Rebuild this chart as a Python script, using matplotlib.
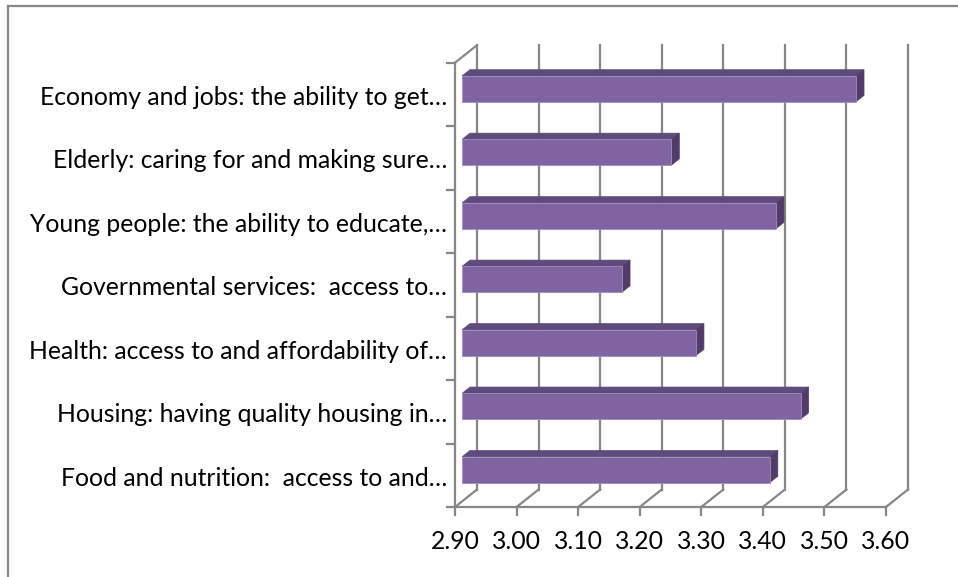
import matplotlib
matplotlib.use("Agg")
import matplotlib.pyplot as plt
from matplotlib.patches import Polygon
from matplotlib.lines import Line2D

categories = [
    "Food and nutrition:  access to and\u2026",
    "Housing: having quality housing in\u2026",
    "Health: access to and affordability of\u2026",
    "Governmental services:  access to\u2026",
    "Young people: the ability to educate,\u2026",
    "Elderly: caring for and making sure\u2026",
    "Economy and jobs: the ability to get\u2026",
]
values = [3.40, 3.45, 3.28, 3.16, 3.41, 3.24, 3.54]
xticks = [2.90, 3.00, 3.10, 3.20, 3.30, 3.40, 3.50, 3.60]
xticklabels = ["2.90", "3.00", "3.10", "3.20", "3.30", "3.40", "3.50", "3.60"]

W, H = 958, 577
fig = plt.figure(figsize=(W / 100, H / 100), dpi=100)
fig.patch.set_facecolor("white")

# front plane of the plot in pixels
x0p, x1p = 455, 886
yb, yt = 507, 62.7
ax = fig.add_axes([x0p / W, 1 - yb / H, (x1p - x0p) / W, (yb - yt) / H])
xmin, xmax = xticks[0], xticks[-1]
n = len(categories)
ax.set_xlim(xmin, xmax)
ax.set_ylim(0, n)
for s in ax.spines.values():
    s.set_visible(False)
ax.set_facecolor("none")

pxu = (x1p - x0p) / (xmax - xmin)      # pixels per value unit
pyc = (yb - yt) / n                    # pixels per category
DX = 22 / pxu                          # depth offset in value units
DY = 17.5 / pyc                        # depth offset in category units

grid_c = "#878787"
glw = 1.6

# back wall vertical gridlines and floor diagonals
for t in xticks:
    ax.add_line(Line2D([t + DX, t + DX], [DY, n + DY], color=grid_c, lw=glw, clip_on=False, zorder=1))
    ax.add_line(Line2D([t, t + DX], [0, DY], color=grid_c, lw=glw, clip_on=False, zorder=1))
# left wall: front vertical axis and top diagonal
ax.add_line(Line2D([xmin, xmin], [0, n], color=grid_c, lw=glw, clip_on=False, zorder=1))
ax.add_line(Line2D([xmin, xmin + DX], [n, n + DY], color=grid_c, lw=glw, clip_on=False, zorder=1))
# floor front edge
ax.add_line(Line2D([xmin, xmax], [0, 0], color=grid_c, lw=glw, clip_on=False, zorder=1))

# ticks
tick_len = 8
for t in xticks:
    ax.add_line(Line2D([t, t], [0, -tick_len / pyc], color=grid_c, lw=glw, clip_on=False, zorder=1))
for k in range(n + 1):
    ax.add_line(Line2D([xmin, xmin - tick_len / pxu], [k, k], color=grid_c, lw=glw, clip_on=False, zorder=1))

# bars
front_c = "#8064A2"
top_c = "#5F4A7C"
side_c = "#4F3D68"
bh = 0.405
d0, d1 = 0.32, 0.68
for i, v in enumerate(values):
    yc = i + 0.5
    fx0 = xmin + d0 * DX
    fx1 = v + d0 * DX
    fy0 = yc - bh / 2 + d0 * DY
    fy1 = yc + bh / 2 + d0 * DY
    ddx = (d1 - d0) * DX
    ddy = (d1 - d0) * DY
    top = Polygon([[fx0, fy1], [fx1, fy1], [fx1 + ddx, fy1 + ddy], [fx0 + ddx, fy1 + ddy]],
                  closed=True, facecolor=top_c, edgecolor=top_c, lw=0.5, clip_on=False, zorder=3)
    side = Polygon([[fx1, fy0], [fx1 + ddx, fy0 + ddy], [fx1 + ddx, fy1 + ddy], [fx1, fy1]],
                   closed=True, facecolor=side_c, edgecolor=side_c, lw=0.5, clip_on=False, zorder=3)
    front = Polygon([[fx0, fy0], [fx1, fy0], [fx1, fy1], [fx0, fy1]],
                    closed=True, facecolor=front_c, edgecolor="#A08BC0", lw=0.6, clip_on=False, zorder=4)
    ax.add_patch(top)
    ax.add_patch(side)
    ax.add_patch(front)

# tick labels
ax.set_xticks([])
ax.set_yticks([])
font = ["Lato", "DejaVu Sans"]
for i, c in enumerate(categories):
    ax.text(xmin - 8 / pxu, i + 0.5 - 0.045, c, ha="right", va="center",
            fontsize=17.8, family=font, color="black", clip_on=False)
for t, lab in zip(xticks, xticklabels):
    ax.text(t, -(541.5 - yb) / pyc, lab, ha="center", va="center",
            fontsize=17.8, family=font, color="black", clip_on=False)

# outer chart border
fig.add_artist(Line2D([8 / W, 8 / W], [0, 1 - 5.5 / H], color=grid_c, lw=1.6, transform=fig.transFigure))
fig.add_artist(Line2D([8 / W, 1], [1 - 5.5 / H, 1 - 5.5 / H], color=grid_c, lw=1.6, transform=fig.transFigure))

fig.savefig("out.png", dpi=100, facecolor="white")
